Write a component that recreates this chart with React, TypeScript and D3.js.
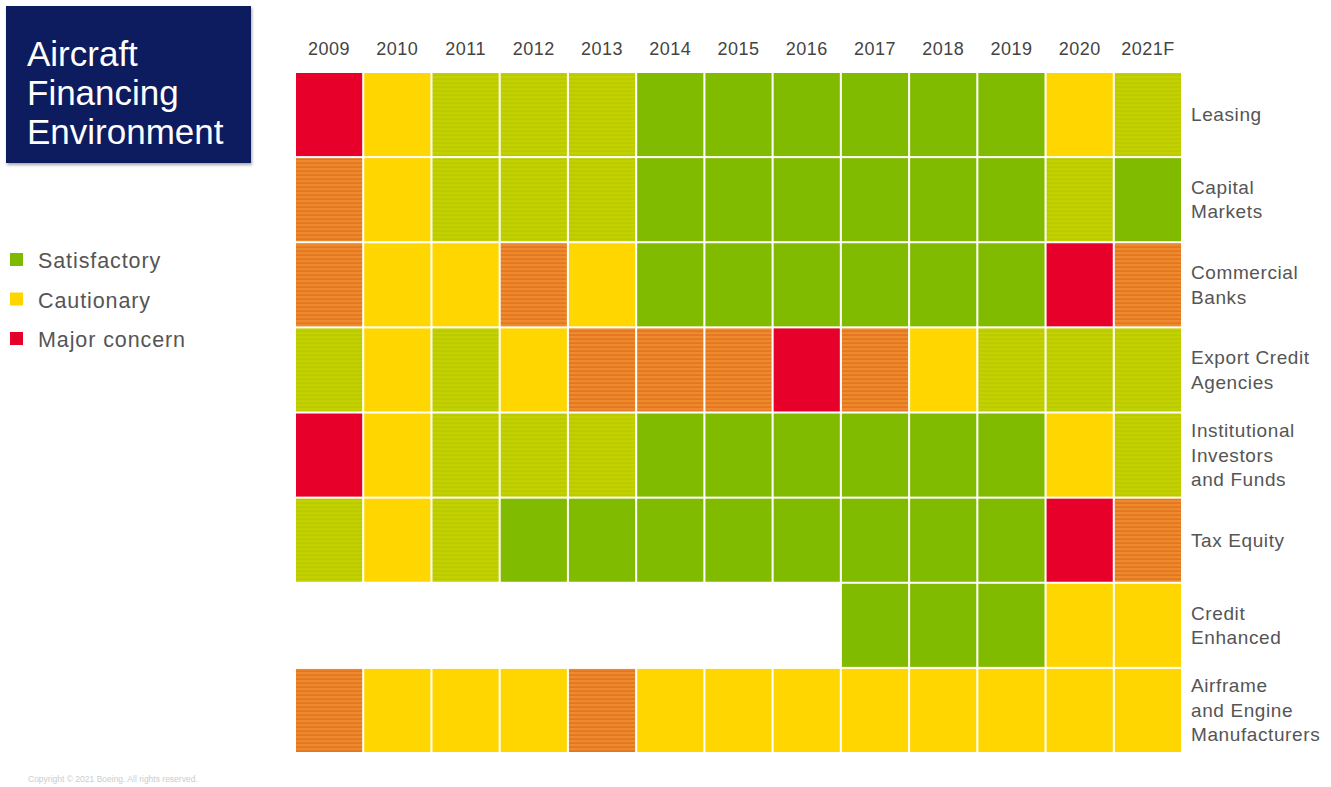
import React from "react";
import * as d3 from "d3";

const years = ["2009","2010","2011","2012","2013","2014","2015","2016","2017","2018","2019","2020","2021F"];
const rowLabels: string[][] = [
  ["Leasing"],
  ["Capital", "Markets"],
  ["Commercial", "Banks"],
  ["Export Credit", "Agencies"],
  ["Institutional", "Investors", "and Funds"],
  ["Tax Equity"],
  ["Credit", "Enhanced"],
  ["Airframe", "and Engine", "Manufacturers"],
];
// R = major concern, O = concern/cautionary, Y = cautionary, G = satisfactory/cautionary, S = satisfactory, "" = none
const leasing = ["R","Y","G","G","G","S","S","S","S","S","S","Y","G"];
const capitalMarkets = ["O","Y","G","G","G","S","S","S","S","S","S","G","S"];
const commercialBanks = ["O","Y","Y","O","Y","S","S","S","S","S","S","R","O"];
const exportCredit = ["G","Y","G","Y","O","O","O","R","O","Y","G","G","G"];
const institutional = ["R","Y","G","G","G","S","S","S","S","S","S","Y","G"];
const taxEquity = ["G","Y","G","S","S","S","S","S","S","S","S","R","O"];
const creditEnhanced = ["","","","","","","","","S","S","S","Y","Y"];
const airframe = ["O","Y","Y","Y","O","Y","Y","Y","Y","Y","Y","Y","Y"];
const rows = [leasing, capitalMarkets, commercialBanks, exportCredit, institutional, taxEquity, creditEnhanced, airframe];

const legendItems = [
  { label: "Satisfactory", color: "#7dba00" },
  { label: "Cautionary", color: "#ffd500" },
  { label: "Major concern", color: "#e4002b" },
];

const fillFor: Record<string, string> = {
  R: "#e6002a",
  Y: "#ffd600",
  S: "#80bb00",
  G: "url(#stripeG)",
  O: "url(#stripeO)",
};

export default function App() {
  const W = 1331, H = 787;
  const x = d3.scaleBand<string>().domain(years).range([296, 1181]).paddingInner(0.03);
  const y = d3.scaleBand<number>().domain(d3.range(rows.length)).range([73, 752]).paddingInner(0.024);
  const font = "Arial, 'Liberation Sans', Helvetica, sans-serif";
  return (
    <svg width={W} height={H} style={{ position: "absolute", left: 0, top: 0, background: "#fff" }} fontFamily={font}>
      <defs>
        <pattern id="stripeG" width="8" height="4" patternUnits="userSpaceOnUse">
          <rect width="8" height="4" fill="#c4d100" />
          <rect y="2.5" width="8" height="1.2" fill="#b4c800" />
        </pattern>
        <pattern id="stripeO" width="8" height="4" patternUnits="userSpaceOnUse">
          <rect width="8" height="4" fill="#ee8a2c" />
          <rect y="2.5" width="8" height="1.2" fill="#dc6e1e" />
        </pattern>
        <filter id="shadow" x="-5%" y="-5%" width="115%" height="115%">
          <feDropShadow dx="1" dy="2" stdDeviation="1.5" floodColor="#000" floodOpacity="0.35" />
        </filter>
      </defs>
      <rect x={0} y={0} width={W} height={H} fill="#fff" />
      {/* title box */}
      <rect x={6} y={6} width={245} height={157} fill="#0b1a5e" filter="url(#shadow)" />
      {["Aircraft", "Financing", "Environment"].map((t, i) => (
        <text key={t} x={27} y={66 + i * 39} fill="#fff" fontSize={35}>{t}</text>
      ))}
      {/* legend */}
      {legendItems.map((d, i) => (
        <g key={d.label}>
          <rect x={10} y={253 + i * 39.5} width={13} height={13} fill={d.color} />
          <text x={38} y={268 + i * 39.5} fontSize={21.5} fill="#555" style={{ letterSpacing: "0.9px" }}>{d.label}</text>
        </g>
      ))}
      {/* column labels */}
      {years.map((yr) => (
        <text key={yr} x={(x(yr) as number) + x.bandwidth() / 2} y={55} fontSize={18} fill="#444" textAnchor="middle" style={{ letterSpacing: "0.5px" }}>{yr}</text>
      ))}
      {/* cells */}
      {rows.map((r, ri) =>
        r.map((v, ci) =>
          v ? (
            <rect key={ri + "-" + ci} x={x(years[ci])} y={y(ri)} width={x.bandwidth()} height={y.bandwidth()} fill={fillFor[v]} />
          ) : null
        )
      )}
      {/* row labels */}
      {rowLabels.map((lines, ri) => {
        const cy = (y(ri) as number) + y.bandwidth() / 2;
        const lh = 24.5;
        const start = cy - ((lines.length - 1) * lh) / 2 + 6.5;
        return (
          <text key={ri} fontSize={19} fill="#555" style={{ letterSpacing: "0.6px" }}>
            {lines.map((l, li) => (
              <tspan key={li} x={1191} y={start + li * lh}>{l}</tspan>
            ))}
          </text>
        );
      })}
      <text x={28} y={782} fontSize={8.5} fill="#ccc">Copyright © 2021 Boeing. All rights reserved.</text>
    </svg>
  );
}
